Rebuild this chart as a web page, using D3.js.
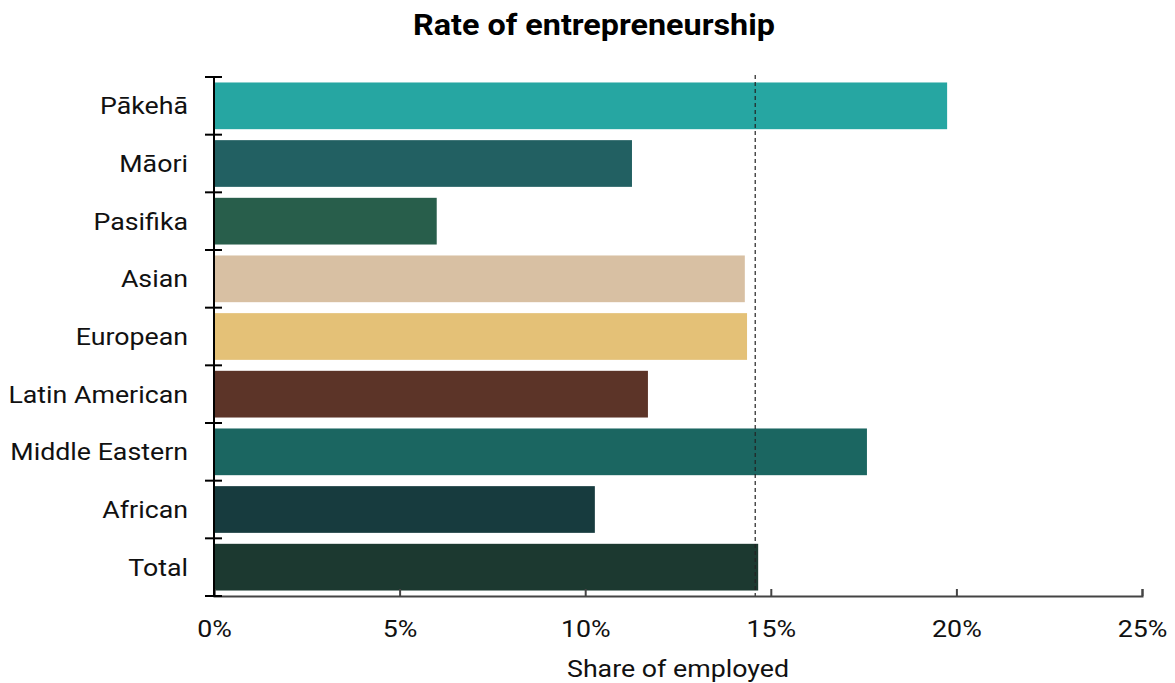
<!DOCTYPE html>
<html><head><meta charset="utf-8">
<script src="https://cdn.jsdelivr.net/npm/d3@7"></script>
<style>body{margin:0;background:#fff;}svg{display:block;font-family:Roboto,sans-serif;}</style>
</head><body>
<svg id="chart" width="1175" height="683"></svg>
<script>
const categories = ["Pākehā","Māori","Pasifika","Asian","European","Latin American","Middle Eastern","African","Total"];
const values = [19.75, 11.26, 6.0, 14.3, 14.36, 11.69, 17.59, 10.26, 14.66];
const colors = ["#26a6a2","#226062","#285e4b","#d8c0a3","#e4c177","#5c3428","#1b6661","#173b3e","#1c3930"];
const xTicks = [0,5,10,15,20,25];
const referenceValue = 14.58;
const title = "Rate of entrepreneurship";
const xLabel = "Share of employed";

const SX = 1.115; // horizontal stretch of text seen in the reference
const svg = d3.select("#chart");
const m = {left:214, right:1142, top:77, bottom:596};
const x = d3.scaleLinear().domain([0,25]).range([m.left, m.right]);
const y = d3.scaleBand().domain(categories).range([m.top, m.bottom]).paddingInner(0.19).paddingOuter(0.095);

function stretchedText(parent, tx, ty, anchor, size, weight, txt, dy) {
  const g = parent.append("g").attr("transform", `translate(${tx},${ty}) scale(${SX},1)`);
  return g.append("text").attr("x",0).attr("y",0).attr("dy",dy||null).attr("text-anchor",anchor)
    .attr("font-size",size).attr("font-weight",weight).attr("fill","#111").text(txt);
}

stretchedText(svg, 594, 35, "middle", 29, 700, title).attr("fill","#000");

svg.selectAll("rect.bar").data(categories).join("rect").attr("class","bar")
  .attr("x",x(0)).attr("y",d=>y(d)).attr("height",y.bandwidth())
  .attr("width",(d,i)=>x(values[i])-x(0)).attr("fill",(d,i)=>colors[i]);

// reference dashed line
svg.append("line").attr("x1",x(referenceValue)).attr("x2",x(referenceValue))
  .attr("y1",75).attr("y2",m.bottom).attr("stroke","#222").attr("stroke-width",1.2)
  .attr("stroke-dasharray","4,3");

// x axis
const xAxis = svg.append("g").attr("transform",`translate(0,${m.bottom})`)
  .call(d3.axisBottom(x).tickValues(xTicks).tickFormat(d=>d+"%").tickSizeInner(-7).tickSizeOuter(-7).tickPadding(24));
xAxis.select(".domain").attr("stroke","#444").attr("stroke-width",2);
xAxis.selectAll(".tick line").attr("stroke","#444").attr("stroke-width",2);
xAxis.selectAll(".tick text").attr("font-size",24).attr("fill","#111").attr("font-family","Roboto,sans-serif")
  .attr("transform",`scale(${SX},1)`);

// y axis boundaries ticks
const yAxis = svg.append("g").attr("transform",`translate(${m.left},0)`);
yAxis.append("line").attr("x1",0).attr("x2",0).attr("y1",m.top).attr("y2",m.bottom).attr("stroke","#000").attr("stroke-width",2);
const bounds = categories.map(d=>y(d)-y.step()*y.paddingInner()/2).concat([m.bottom]);
bounds[0] = m.top;
yAxis.selectAll("line.tk").data(bounds).join("line").attr("class","tk")
  .attr("x1",-9).attr("x2",8).attr("y1",d=>d).attr("y2",d=>d).attr("stroke","#000").attr("stroke-width",2);
categories.forEach(d => stretchedText(yAxis, -26, y(d)+y.bandwidth()/2, "end", 24, 400, d, "0.35em"));

stretchedText(svg, (m.left+m.right)/2, 677, "middle", 24, 400, xLabel);
</script>
</body></html>
